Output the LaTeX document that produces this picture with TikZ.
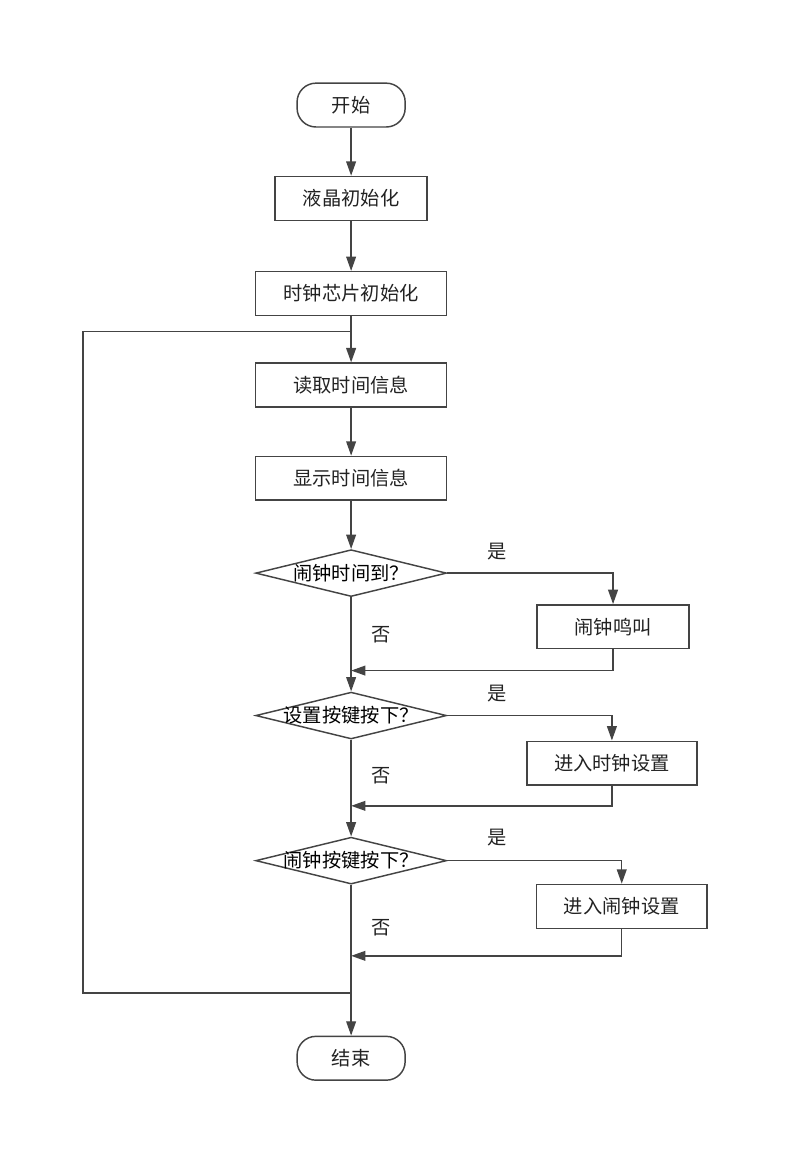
\documentclass[tikz,border=0pt]{standalone}
\usepackage{fontspec}
\setmainfont{Noto Sans CJK SC}
\usepackage{tikz}
\usetikzlibrary{
  arrows.meta,
  shapes.geometric,
  positioning,
  calc
}
\definecolor{fcLine}{HTML}{444444}
\definecolor{fcText}{HTML}{222222}
\tikzset{
  fcnode/.style={
    draw=fcLine, line width=1.1pt, minimum height=11.6mm, inner sep=0pt,
    align=center, text=fcText
  },
  terminal/.style={fcnode, rounded corners=5mm, minimum width=28.6mm},
  procbox/.style={fcnode, minimum width=40.2mm},
  widebox/.style={fcnode, minimum width=50.5mm},
  decision/.style={
    draw=fcLine, line width=1.1pt, diamond, inner sep=0pt,
    minimum width=50.5mm, minimum height=12.4mm
  },
  flow/.style={-{Triangle[length=3.8mm,width=2.6mm]}, line width=1.1pt, fcLine},
  netline/.style={line width=1.1pt, fcLine},
  tag/.style={text=fcText, inner sep=0pt}
}

\begin{document}
\begin{tikzpicture}[font=\fontsize{14.5pt}{17pt}\selectfont]
  \useasboundingbox (-92.9mm,27.8mm) rectangle (115.6mm,-280.7mm);
  % main column
  \node[terminal] (start) at (0,0) {开始};
  \node[procbox, below=12.7mm of start] (lcd) {液晶初始化};
  \node[widebox, below=13.2mm of lcd] (rtc) {时钟芯片初始化};
  \node[widebox, below=12.2mm of rtc] (rd) {读取时间信息};
  \node[widebox, below=12.7mm of rd] (disp) {显示时间信息};
  \node[decision, below=12.7mm of disp, label=center:{闹钟时间到？}] (q1) {};
  \node[decision, below=24.9mm of q1, label=center:{设置按键按下？}] (q2) {};
  \node[decision, below=25.6mm of q2, label=center:{闹钟按键按下？}] (q3) {};
  \node[terminal, below=39.9mm of q3] (stop) {结束};
  % yes branches
  \node[procbox, below=8.2mm of q1.center, xshift=69.3mm] (bell) {闹钟鸣叫};
  \node[fcnode, minimum width=45mm, below=6.6mm of q2.center, xshift=69mm] (tset) {进入时钟设置};
  \node[fcnode, minimum width=45.2mm, below=6.1mm of q3.center, xshift=71.6mm] (aset) {进入闹钟设置};
  \coordinate[below=5.6mm of bell.south] (j1);
  \coordinate[below=5.3mm of tset.south] (j2);
  \coordinate[below=7.1mm of aset.south] (j3);
  \coordinate[below=4mm of rtc.south] (loopin);
  \coordinate[below=28.6mm of q3.south] (loopout);
  \foreach \a/\b in {start/lcd,lcd/rtc,rtc/rd,rd/disp,disp/q1,q1/q2,q2/q3,q3/stop}{\draw[flow] (\a.south) -- (\b.north);}
  \draw[flow] (q1.east) -| (bell.north);
  \draw[flow] (q2.east) -| (tset.north);
  \draw[flow] (q3.east) -| (aset.north);
  \draw[flow] (bell.south) |- (j1 -| q1.south);
  \draw[flow] (tset.south) |- (j2 -| q2.south);
  \draw[flow] (aset.south) |- (j3 -| q3.south);
  \draw[netline] (loopout) -- ++(-70.9mm,0) |- (loopin);
  % labels
  \node[tag] at ([shift={(13.2mm,5.8mm)}]q1.east) {是};
  \node[tag] at ([shift={(13.2mm,5.8mm)}]q2.east) {是};
  \node[tag] at ([shift={(13.2mm,6.1mm)}]q3.east) {是};
  \node[tag] at ([shift={(7.9mm,-10mm)}]q1.south) {否};
  \node[tag] at ([shift={(7.9mm,-9.5mm)}]q2.south) {否};
  \node[tag] at ([shift={(7.9mm,-11.4mm)}]q3.south) {否};
\end{tikzpicture}
\end{document}
